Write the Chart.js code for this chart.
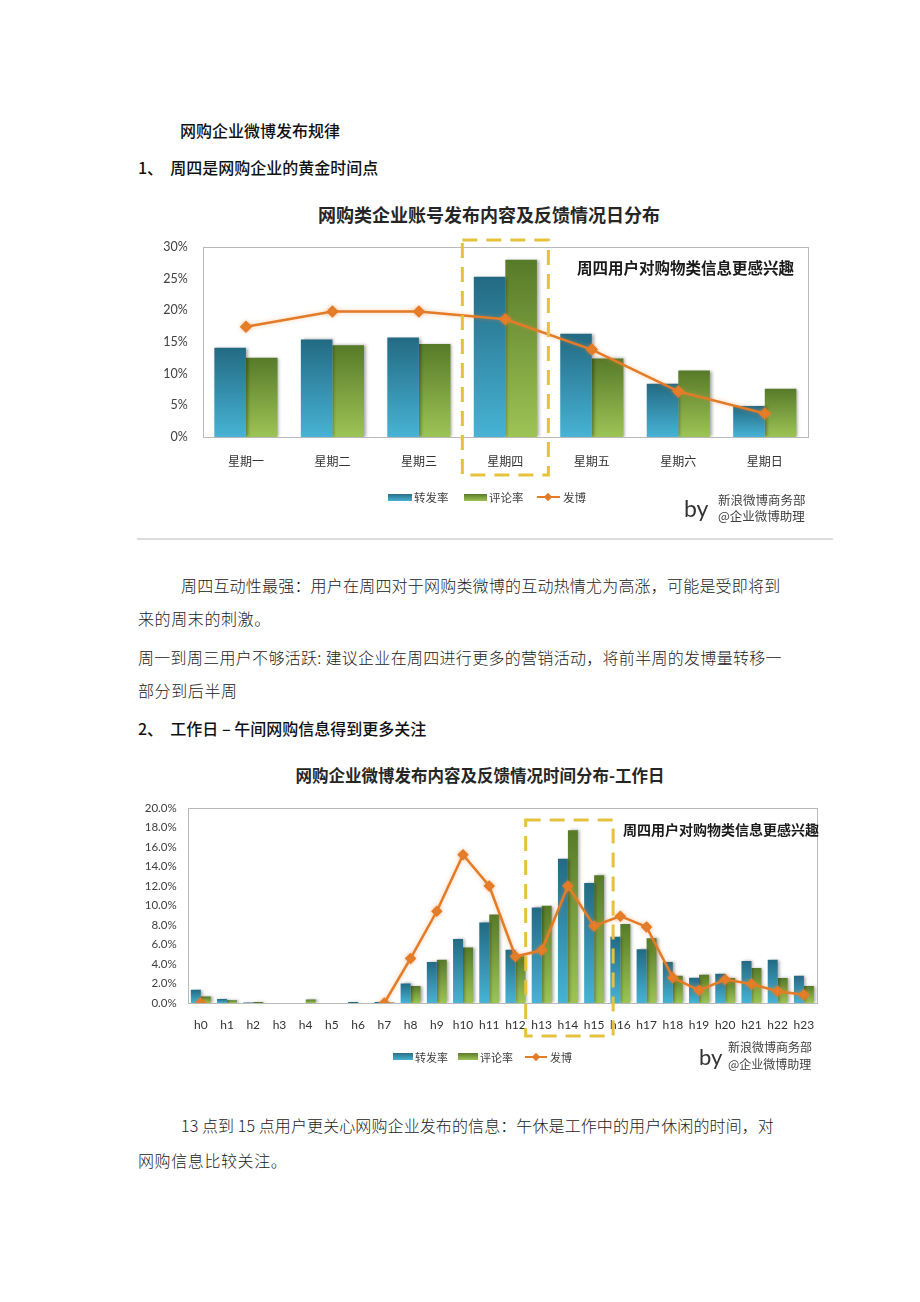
<!DOCTYPE html>
<html><head><meta charset="utf-8">
<script src="https://cdn.jsdelivr.net/npm/chart.js@4.4.0/dist/chart.umd.min.js"></script>
<style>
html,body{margin:0;padding:0;background:#fff;}
#page{position:relative;width:920px;height:1302px;overflow:hidden;font-family:"Noto Sans CJK SC",sans-serif;color:#111;}
.t{position:absolute;white-space:nowrap;line-height:24px;height:24px;}
.body{font-size:16px;font-weight:300;letter-spacing:0.6px;color:#222;}
.head{font-size:16px;font-weight:500;color:#111;}
.ctitle{font-weight:700;color:#262626;}
.anno{font-weight:700;color:#1a1a1a;}
.lg{position:absolute;height:20px;font-size:11.5px;color:#404040;}
.lg span{position:absolute;top:0;line-height:20px;white-space:nowrap;}
.sw{position:absolute;}
.by{position:absolute;font-family:Lato,"Noto Sans CJK SC",sans-serif;color:#333;line-height:24px;}
.sina{position:absolute;font-size:12px;color:#404040;line-height:16px;white-space:nowrap;}
canvas{position:absolute;}
</style>
</head>
<body>
<div id="page">
  <div class="t head" style="left:180px;top:118px;">网购企业微博发布规律</div>
  <div class="t head" style="left:138px;top:155px;">1、&nbsp; 周四是网购企业的黄金时间点</div>

  <div class="t ctitle" style="left:289px;width:400px;text-align:center;top:202px;font-size:18px;">网购类企业账号发布内容及反馈情况日分布</div>
  <canvas id="c1" width="700" height="345" style="left:137px;top:195px;"></canvas>
  <div class="t anno" style="left:577px;top:255px;font-size:15.5px;">周四用户对购物类信息更感兴趣</div>
  <div class="lg" style="left:0;top:487px;width:920px;">
    <div class="sw" style="left:388px;top:7px;width:24px;height:7px;background:linear-gradient(#2a6f86,#46b0d2);"></div>
    <span style="left:414px;">转发率</span>
    <div class="sw" style="left:464px;top:7px;width:23px;height:7px;background:linear-gradient(#5b7b2c,#9cc355);"></div>
    <span style="left:489px;">评论率</span>
    <div class="sw" style="left:537px;top:9px;width:23px;height:2px;background:#e37b27;"></div>
    <div class="sw" style="left:545px;top:7px;width:6px;height:6px;background:#e37b27;transform:rotate(45deg);"></div>
    <span style="left:563px;">发博</span>
  </div>
  <div class="by" style="left:684px;top:496px;font-size:23px;">by</div>
  <div class="sina" style="left:718px;top:492px;font-size:12.5px;">新浪微博商务部</div>
  <div class="sina" style="left:718px;top:508px;font-size:12.5px;">@企业微博助理</div>
  <div style="position:absolute;left:137px;top:538px;width:696px;height:2px;background:#dcdcdc;"></div>

  <div class="t body" style="left:181px;top:573px;letter-spacing:0.2px;">周四互动性最强：用户在周四对于网购类微博的互动热情尤为高涨，可能是受即将到</div>
  <div class="t body" style="left:138px;top:606px;">来的周末的刺激。</div>
  <div class="t body" style="left:138px;top:645px;letter-spacing:0.3px;">周一到周三用户不够活跃: 建议企业在周四进行更多的营销活动，将前半周的发博量转移一</div>
  <div class="t body" style="left:138px;top:678px;">部分到后半周</div>
  <div class="t head" style="left:138px;top:716px;">2、&nbsp; 工作日 – 午间网购信息得到更多关注</div>

  <div class="t ctitle" style="left:230px;width:500px;text-align:center;top:763px;font-size:16.5px;">网购企业微博发布内容及反馈情况时间分布-工作日</div>
  <canvas id="c2" width="695" height="290" style="left:135px;top:790px;"></canvas>
  <div class="t anno" style="left:623px;top:817px;font-size:14px;">周四用户对购物类信息更感兴趣</div>
  <div class="lg" style="left:0;top:1047px;width:920px;font-size:11px;">
    <div class="sw" style="left:393px;top:6px;width:20px;height:7px;background:linear-gradient(#2a6f86,#46b0d2);"></div>
    <span style="left:415px;">转发率</span>
    <div class="sw" style="left:458px;top:6px;width:20px;height:7px;background:linear-gradient(#5b7b2c,#9cc355);"></div>
    <span style="left:480px;">评论率</span>
    <div class="sw" style="left:525px;top:9px;width:22px;height:2px;background:#e37b27;"></div>
    <div class="sw" style="left:533px;top:7px;width:6px;height:6px;background:#e37b27;transform:rotate(45deg);"></div>
    <span style="left:550px;">发博</span>
  </div>
  <div class="by" style="left:699px;top:1045px;font-size:22px;">by</div>
  <div class="sina" style="left:728px;top:1039px;">新浪微博商务部</div>
  <div class="sina" style="left:728px;top:1056px;">@企业微博助理</div>

  <div class="t body" style="left:181px;top:1113px;letter-spacing:0.1px;">13 点到 15 点用户更关心网购企业发布的信息：午休是工作中的用户休闲的时间，对</div>
  <div class="t body" style="left:138px;top:1148px;">网购信息比较关注。</div>
</div>

<script>
// ---- Data ----
const dayLabels = ['星期一','星期二','星期三','星期四','星期五','星期六','星期日'];
const dayRepost = [14.1, 15.4, 15.7, 25.3, 16.3, 8.4, 4.9];
const dayComment = [12.5, 14.5, 14.7, 28.0, 12.4, 10.5, 7.6];
const dayPost = [17.4, 19.8, 19.8, 18.6, 13.8, 7.2, 3.7];
const dayTicks = [0, 5, 10, 15, 20, 25, 30];

const hourLabels = ['h0','h1','h2','h3','h4','h5','h6','h7','h8','h9','h10','h11','h12','h13','h14','h15','h16','h17','h18','h19','h20','h21','h22','h23'];
const hourRepost = [1.35, 0.4, 0.05, 0, 0, 0, 0.1, 0.1, 2.0, 4.2, 6.55, 8.26, 5.47, 9.8, 14.8, 12.3, 6.8, 5.5, 4.2, 2.6, 3.0, 4.3, 4.43, 2.8];
const hourComment = [0.67, 0.27, 0.1, 0, 0.35, 0, 0, 0.05, 1.75, 4.43, 5.68, 9.06, 4.8, 9.97, 17.7, 13.1, 8.1, 6.65, 2.8, 2.9, 2.55, 3.6, 2.55, 1.75];
const hourPost = [0, null, null, null, null, null, null, 0, 4.57, 9.4, 15.2, 12.0, 4.77, 5.4, 12.0, 7.9, 8.9, 7.8, 2.6, 1.3, 2.4, 1.95, 1.2, 0.85];
const hourTicks = [0, 2, 4, 6, 8, 10, 12, 14, 16, 18, 20];

// ---- Styles ----
const TEAL = ['#236a83', '#47b3d5'];
const GREEN = ['#577a29', '#9dc455'];
const ORANGE = '#e37b27';

function vGrad(c) {
  return function(ctx) {
    const chart = ctx.chart, area = chart.chartArea;
    if (!area || ctx.type !== 'data') return c[1];
    const top = chart.scales.y.getPixelForValue(ctx.raw || 0);
    const bottom = area.bottom;
    if (bottom - top < 2) return c[0];
    const g = chart.ctx.createLinearGradient(0, top, 0, bottom);
    g.addColorStop(0, c[0]); g.addColorStop(1, c[1]);
    return g;
  };
}

const shadowPlugin = {
  id: 'shadowFx',
  beforeDatasetDraw(chart, args) {
    const c = chart.ctx; c.save();
    if (args.meta.type === 'line') {
      c.shadowColor = 'rgba(240,140,60,0.45)'; c.shadowBlur = 4;
    } else {
      c.shadowColor = 'rgba(0,0,0,0.35)'; c.shadowBlur = 3; c.shadowOffsetX = 2;
    }
  },
  afterDatasetDraw(chart) { chart.ctx.restore(); }
};

const framePlugin = {
  id: 'frameFx',
  beforeDatasetsDraw(chart) {
    const a = chart.chartArea, c = chart.ctx;
    c.save(); c.strokeStyle = '#b9b9b9'; c.lineWidth = 1;
    c.strokeRect(Math.round(a.left) + 0.5, Math.round(a.top) + 0.5, Math.round(a.right - a.left), Math.round(a.bottom - a.top));
    c.restore();
  }
};

const boxPlugin = {
  id: 'boxFx',
  afterDraw(chart, args, o) {
    const x = chart.scales.x, a = chart.chartArea, c = chart.ctx;
    const l = x.getPixelForValue(o.from) - o.padL, r = x.getPixelForValue(o.to) + o.padR;
    const t = a.top - o.padT, b = a.bottom + o.padB;
    c.save(); c.strokeStyle = '#e6c13c'; c.lineWidth = 3; c.setLineDash([15, 9]);
    c.strokeRect(l, t, r - l, b - t); c.restore();
  }
};

function makeChart(id, labels, rep, com, post, ticks, cfg) {
  return new Chart(document.getElementById(id), {
    type: 'bar',
    data: {
      labels: labels,
      datasets: [
        { label: '转发率', data: rep, backgroundColor: vGrad(TEAL), order: 1, categoryPercentage: cfg.cat, barPercentage: 1 },
        { label: '评论率', data: com, backgroundColor: vGrad(GREEN), order: 1, categoryPercentage: cfg.cat, barPercentage: 1 },
        { label: '发博', type: 'line', data: post, borderColor: ORANGE, backgroundColor: ORANGE, borderWidth: 2.5,
          pointStyle: 'rectRot', pointRadius: cfg.pr, pointBackgroundColor: ORANGE, pointBorderColor: ORANGE,
          tension: 0, spanGaps: false, order: 0 }
      ]
    },
    options: {
      responsive: false, animation: false, devicePixelRatio: 1,
      layout: { padding: cfg.pad },
      plugins: { legend: { display: false }, tooltip: { enabled: false }, boxFx: cfg.box },
      scales: {
        x: {
          grid: { display: false, drawTicks: false }, border: { display: false },
          ticks: { color: '#333', padding: cfg.xpad, font: { family: cfg.xfont, size: 12 }, maxRotation: 0, autoSkip: false },
          afterFit(s) { s.height = 40; }
        },
        y: {
          min: ticks[0], max: ticks[ticks.length - 1],
          afterBuildTicks(s) { s.ticks = ticks.map(v => ({ value: v })); },
          grid: { display: false, drawTicks: false }, border: { display: false },
          ticks: { color: '#404040', padding: cfg.ypad, font: { family: 'Lato, "Noto Sans CJK SC", sans-serif', size: cfg.ysize },
                   callback: v => cfg.dec ? v.toFixed(1) + '%' : v + '%' },
          afterFit(s) { s.width = cfg.yw; }
        }
      }
    },
    plugins: [shadowPlugin, framePlugin, boxPlugin]
  });
}

makeChart('c1', dayLabels, dayRepost, dayComment, dayPost, dayTicks, {
  cat: 0.73, pr: 4.5, xpad: 17, ypad: 15, ysize: 12.5, dec: false, yw: 65.7,
  xfont: '"Noto Sans CJK SC", sans-serif',
  pad: { left: 0, right: 29, top: 52, bottom: 63 },
  box: { from: 3, to: 3, padL: 43, padR: 43, padT: 7, padB: 38 }
});

makeChart('c2', hourLabels, hourRepost, hourComment, hourPost, hourTicks, {
  cat: 0.76, pr: 4, xpad: 15, ypad: 11, ysize: 11.5, dec: true, yw: 52.7,
  xfont: 'Lato, "Noto Sans CJK SC", sans-serif',
  pad: { left: 0, right: 13, top: 14, bottom: 37 },
  box: { from: 13, to: 15, padL: 16, padR: 19, padT: -12, padB: 33 }
});
</script>
</body></html>
